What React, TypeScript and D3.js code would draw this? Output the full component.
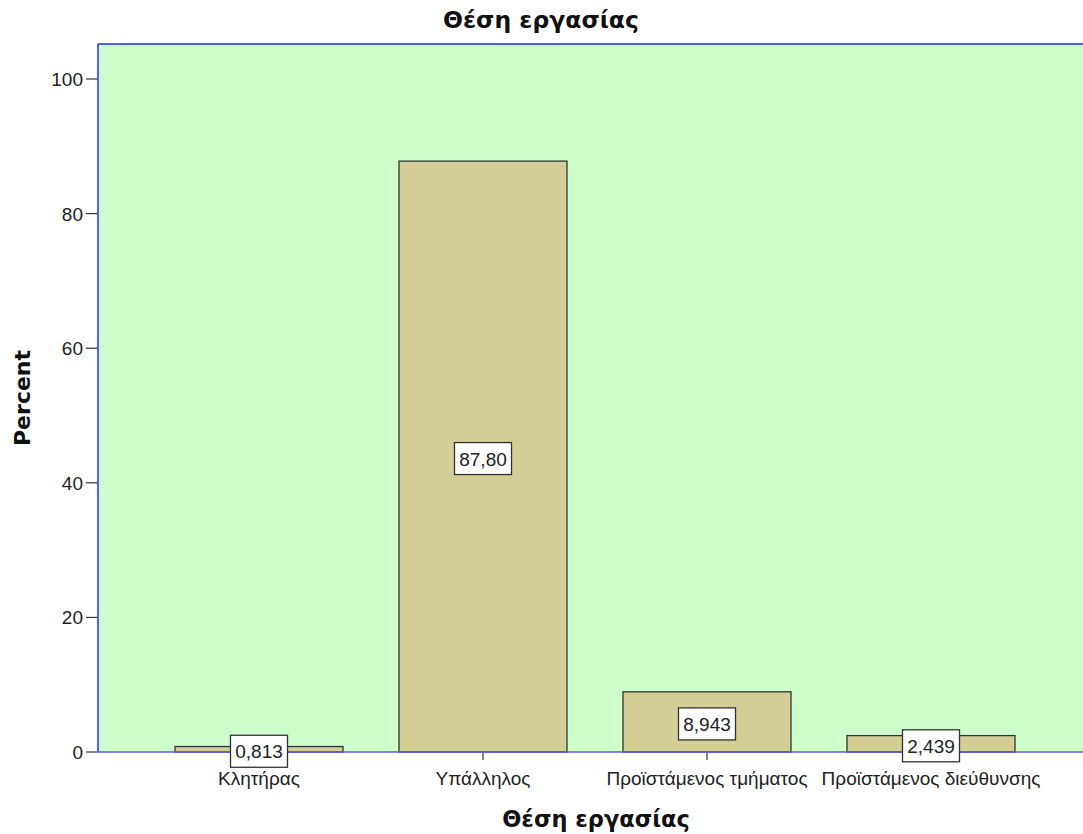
import React from "react";
import * as d3 from "d3";

const categories = ["Κλητήρας", "Υπάλληλος", "Προϊστάμενος τμήματος", "Προϊστάμενος διεύθυνσης"];
const percents = [0.813, 87.8, 8.943, 2.439];
const valueLabels = ["0,813", "87,80", "8,943", "2,439"];
const yTicks = [0, 20, 40, 60, 80, 100];

const W = 1083;
const H = 834;
const plot = { left: 98, top: 44, right: 1083, bottom: 752 };
const font = "'Liberation Sans', Arial, sans-serif";
const titleFont = "'DejaVu Sans', Verdana, sans-serif";

export default function App() {
  const x = d3
    .scaleBand<string>()
    .domain(categories)
    .range([147, 1043])
    .paddingInner(0.25)
    .paddingOuter(0.125);
  const y = d3.scaleLinear().domain([0, 100]).range([plot.bottom, 79]);
  const blue = "#5a5aff";

  return (
    <svg
      width={W}
      height={H}
      style={{ position: "absolute", left: 0, top: 0, background: "#fff" }}
      fontFamily={font}
    >
      <text x={541} y={28} textAnchor="middle" fontSize={23.5} fontWeight="bold" fill="#111" fontFamily={titleFont}>
        Θέση εργασίας
      </text>
      <rect
        x={plot.left}
        y={plot.top}
        width={plot.right - plot.left + 2}
        height={plot.bottom - plot.top}
        fill="#ccffcc"
      />
      {yTicks.map((t) => (
        <g key={t}>
          <line x1={86} x2={plot.left} y1={y(t)} y2={y(t)} stroke="#333" strokeWidth={1.2} />
          <text x={83} y={y(t) + 7} textAnchor="end" fontSize={19} fill="#222">
            {t}
          </text>
        </g>
      ))}
      {categories.map((c, i) => {
        const bx = x(c)!;
        const bw = x.bandwidth();
        const top = y(percents[i]);
        const cx = bx + bw / 2;
        return (
          <g key={c}>
            <rect
              x={bx}
              y={top}
              width={bw}
              height={y(0) - top}
              fill="#d3cd96"
              stroke="#333"
              strokeWidth={1.3}
            />
            <line x1={cx} x2={cx} y1={plot.bottom} y2={plot.bottom + 8} stroke="#333" strokeWidth={1.2} />
            <text x={cx} y={plot.bottom + 33} textAnchor="middle" fontSize={19} fill="#222">
              {c}
            </text>
          </g>
        );
      })}
      <line x1={plot.left} x2={W} y1={plot.top} y2={plot.top} stroke={blue} strokeWidth={2} />
      <line x1={plot.left} x2={plot.left} y1={plot.top} y2={plot.bottom} stroke={blue} strokeWidth={2} />
      <line x1={plot.left} x2={W} y1={plot.bottom} y2={plot.bottom} stroke={blue} strokeWidth={1.5} />
      {categories.map((c, i) => {
        const cx = x(c)! + x.bandwidth() / 2;
        const cy = (y(percents[i]) + y(0)) / 2 + 2;
        return (
          <g key={"lbl" + c}>
            <rect x={cx - 28.5} y={cy - 16} width={57} height={32} fill="#fff" stroke="#333" strokeWidth={1.3} />
            <text x={cx} y={cy + 7} textAnchor="middle" fontSize={19} fill="#222">
              {valueLabels[i]}
            </text>
          </g>
        );
      })}
      <text
        x={596}
        y={827}
        textAnchor="middle"
        fontSize={22.5}
        fontWeight="bold"
        fill="#111"
        fontFamily={titleFont}
      >
        Θέση εργασίας
      </text>
      <text
        transform={`translate(30, ${(plot.top + plot.bottom) / 2}) rotate(-90)`}
        textAnchor="middle"
        fontSize={22}
        fontWeight="bold"
        fill="#111"
        fontFamily={titleFont}
      >
        Percent
      </text>
    </svg>
  );
}
